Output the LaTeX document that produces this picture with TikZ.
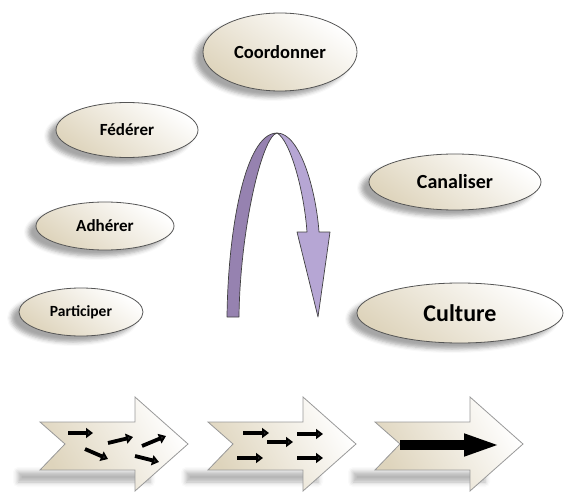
\documentclass[tikz,border=0pt]{standalone}
\usepackage{fontspec}
\setmainfont{Carlito}
\usetikzlibrary{shapes.geometric,arrows.meta,shadows.blur}
\definecolor{beige}{RGB}{222,212,188}
\definecolor{ovalline}{RGB}{85,85,85}
\definecolor{purpdark}{RGB}{150,130,176}
\definecolor{purplight}{RGB}{182,166,212}
\tikzset{
  oval/.style={ellipse, draw=ovalline, line width=0.8pt, inner sep=0pt,
    top color=white, bottom color=beige, shading angle=-35,
    font=\bfseries,
    blur shadow={shadow xshift=-8pt, shadow yshift=-6pt, shadow blur radius=4pt, shadow opacity=35}},
  bigarrow/.style={draw=gray!80, line width=0.8pt, top color=white, bottom color=beige, shading angle=-60},
  floorshadow/.style={blur shadow={shadow xshift=0pt, shadow yshift=0pt, shadow blur radius=5pt, shadow opacity=30}},
  smallarr/.style={line width=3.8pt, -{Triangle[length=7pt,width=10pt]}},
  fatarr/.style={line width=10pt, -{Triangle[length=37pt,width=20pt]}},
  ribbon/.style={draw=black!75, line width=0.7pt, line join=round}
}
\begin{document}
\begin{tikzpicture}[x=1pt,y=-1pt]
\useasboundingbox (0,0) rectangle (568,492);
% ellipses
\node[oval, minimum width=154pt, minimum height=78pt, font=\bfseries\fontsize{18.5}{20}\selectfont] (coord) at (280,52) {Coordonner};
\node[oval, minimum width=142pt, minimum height=55pt, font=\bfseries\fontsize{17}{19}\selectfont] (fed) at (127,130) {Fédérer};
\node[oval, minimum width=172pt, minimum height=56pt, font=\bfseries\fontsize{20}{22}\selectfont] (can) at (455,182) {Canaliser};
\node[oval, minimum width=138pt, minimum height=48pt, font=\bfseries\fontsize{17}{19}\selectfont] (adh) at (105,226) {Adhérer};
\node[oval, minimum width=124pt, minimum height=48pt, font=\bfseries\fontsize{15.5}{17}\selectfont] (part) at (81,312) {Participer};
\node[oval, minimum width=206pt, minimum height=60pt, font=\bfseries\fontsize{24}{26}\selectfont] (cult) at (460,313) {Culture};
% curved purple arrow
\path[ribbon, fill=purpdark]
  (227,317) .. controls (228,230) and (245,133) .. (277,133)
  .. controls (262,136) and (240,230) .. (239,317) -- cycle;
\path[ribbon, fill=purplight]
  (277,133) .. controls (300,133) and (316,190) .. (319,232)
  -- (330,232) -- (318,317) -- (297,232) -- (307,232)
  .. controls (304,190) and (290,140) .. (277,133) -- cycle;
% floor shadows of bottom arrows
\path[floorshadow] (18,472) rectangle (150,482);
\path[floorshadow] (186,472) rectangle (318,482);
\path[floorshadow] (353,472) rectangle (485,482);
% bottom arrows
\foreach \dx/\nm in {0/a1,168/a2,335/a3}{
  \path[bigarrow] ([xshift=\dx pt]40,422) -- ([xshift=\dx pt]135,422) -- ([xshift=\dx pt]135,397)
    -- ([xshift=\dx pt]188,444) -- ([xshift=\dx pt]135,491) -- ([xshift=\dx pt]135,470)
    -- ([xshift=\dx pt]40,470) -- ([xshift=\dx pt]65,444) -- cycle;
}
% arrows inside first
\draw[smallarr] (68,433) -- (93,433);
\draw[smallarr] (108,443) -- (133,437);
\draw[smallarr] (142,446) -- (166,436);
\draw[smallarr] (85,449) -- (108,459);
\draw[smallarr] (135,456) -- (159,462);
% arrows inside second
\draw[smallarr] (243,433) -- (269,433);
\draw[smallarr] (267,442) -- (293,442);
\draw[smallarr] (297,434) -- (323,434);
\draw[smallarr] (237,458) -- (263,458);
\draw[smallarr] (297,458) -- (323,458);
% big arrow inside third
\draw[fatarr] (400,445) -- (501,445);
\end{tikzpicture}
\end{document}
